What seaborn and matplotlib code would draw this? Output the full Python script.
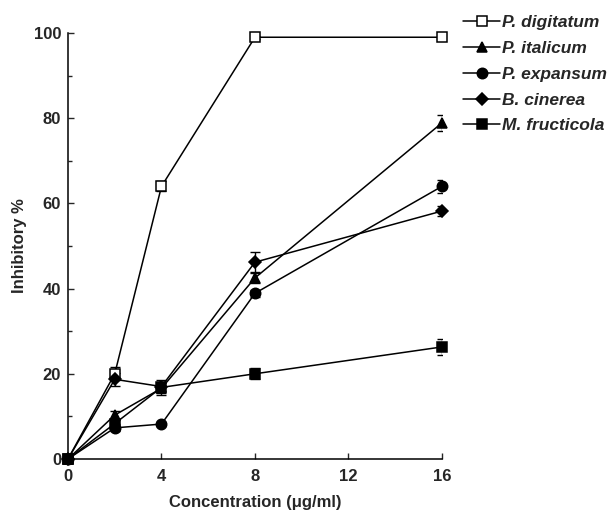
import matplotlib
matplotlib.use("Agg")
import matplotlib.pyplot as plt
import seaborn as sns
import pandas as pd
from matplotlib.ticker import MultipleLocator

sns.set_style("ticks")
plt.rcParams['font.family'] = ['Liberation Sans', 'DejaVu Sans']
plt.rcParams['font.weight'] = 'bold'

# data
conc = [0, 2, 4, 8, 16]
species = ["P. digitatum", "P. italicum", "P. expansum", "B. cinerea", "M. fructicola"]
digitatum = [0, 20.0, 64.0, 99.0, 99.0]
italicum = [0, 10.3, 16.6, 42.5, 78.9]
expansum = [0, 7.3, 8.2, 38.9, 64.0]
cinerea = [0, 18.7, 17.0, 46.2, 58.2]
fructicola = [0, 8.3, 16.8, 20.0, 26.3]
err_digitatum = [0, 1.5, 1.2, 0.3, 0.3]
err_italicum = [0, 1.0, 1.2, 1.3, 1.8]
err_expansum = [0, 0.8, 0.5, 0.8, 1.6]
err_cinerea = [0, 1.5, 1.0, 2.5, 1.2]
err_fructicola = [0, 0.8, 1.8, 1.3, 1.9]

values = [digitatum, italicum, expansum, cinerea, fructicola]
errors = [err_digitatum, err_italicum, err_expansum, err_cinerea, err_fructicola]
markers = ["s", "^", "o", "D", "s"]
faces = ["white", "black", "black", "black", "black"]
msizes = [7.5, 7.5, 7.5, 6.5, 7.5]

fig = plt.figure(figsize=(6.1, 5.13), dpi=100)
ax = fig.add_axes([0.1115, 0.1053, 0.613, 0.8304])

for name, vals, errs, mk, fc, ms in zip(species, values, errors, markers, faces, msizes):
    df = pd.DataFrame({"conc": conc, "val": vals})
    ax.errorbar(conc, vals, yerr=errs, fmt="none", ecolor="black",
                elinewidth=1.0, capsize=3.5, capthick=1.0, zorder=2)
    sns.lineplot(data=df, x="conc", y="val", ax=ax, color="black", linewidth=1.1,
                 marker=mk, markersize=ms, markerfacecolor=fc, markeredgecolor="black",
                 markeredgewidth=1.1, label=name, clip_on=False, zorder=3)

ax.set_xlim(0, 16)
ax.set_ylim(0, 100)
ax.set_xticks([0, 4, 8, 12, 16])
ax.set_yticks([0, 20, 40, 60, 80, 100])
ax.yaxis.set_minor_locator(MultipleLocator(10))
ax.tick_params(axis="both", which="major", direction="in", length=4.5, width=1,
               labelsize=12)
ax.tick_params(axis="x", which="major", pad=7)
ax.tick_params(axis="y", which="major", pad=5)
ax.tick_params(axis="y", which="minor", direction="in", length=3, width=1)
for lab in ax.get_xticklabels() + ax.get_yticklabels():
    lab.set_fontweight("bold")
sns.despine(ax=ax)
for sp in ["left", "bottom"]:
    ax.spines[sp].set_linewidth(1.1)
    ax.spines[sp].set_color("black")

ax.set_xlabel("Concentration (μg/ml)", fontsize=12, fontweight="bold", labelpad=8)
ax.set_ylabel("Inhibitory %", fontsize=12, fontweight="bold", labelpad=5)

handles, labels = ax.get_legend_handles_labels()
ax.get_legend().remove()
leg = fig.legend(handles, labels, loc="upper left", bbox_to_anchor=(0.744, 0.99),
                 frameon=False, fontsize=12.5, handlelength=2.1, handletextpad=0.15,
                 labelspacing=0.62, borderaxespad=0.25, borderpad=0.3)
for t in leg.get_texts():
    t.set_fontstyle("italic")
    t.set_fontweight("bold")

fig.savefig("out.png", dpi=100)
